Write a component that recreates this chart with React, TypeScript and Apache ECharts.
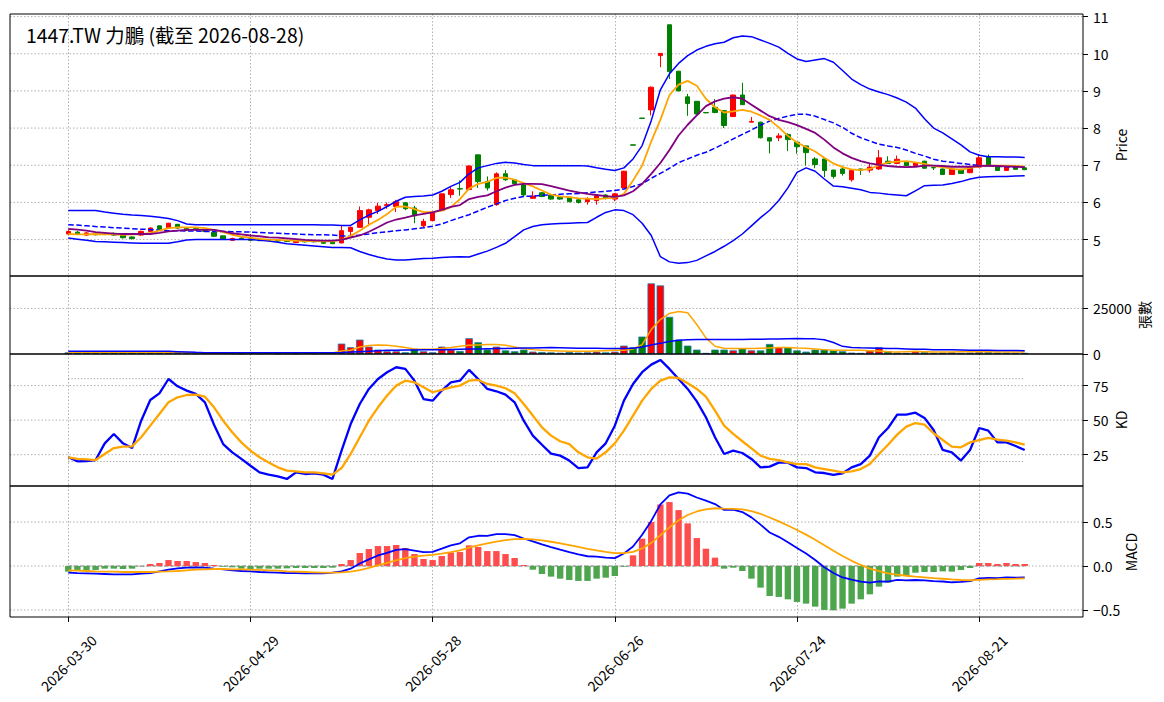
import React, { useEffect, useRef } from "react";
import * as echarts from "echarts";

const titleText = "1447.TW 力鵬 (截至 2026-08-28)";
const tickIndex = [0, 20, 40, 60, 80, 100];
const tickLabels = ["2026-03-30", "2026-04-29", "2026-05-28", "2026-06-26", "2026-07-24", "2026-08-21"];

const openP = [5.15,5.20,5.12,5.17,5.15,5.17,5.12,5.07,5.12,5.22,
 5.37,5.32,5.41,5.30,5.30,5.28,5.20,5.10,4.98,5.04,
 5.02,5.00,4.99,4.98,4.97,4.92,4.96,4.95,4.94,4.96,
 4.91,5.22,5.33,5.60,5.78,5.91,5.89,5.99,5.85,5.37,
 5.51,5.78,6.21,6.37,6.35,7.28,6.56,5.94,6.77,6.61,
 6.48,6.11,6.26,6.20,6.14,6.14,6.07,6.02,6.05,6.20,
 6.09,6.39,7.55,8.27,8.49,9.95,10.78,9.53,8.84,8.72,
 8.42,8.56,8.47,8.31,8.89,8.16,8.16,7.74,7.74,7.83,
 7.62,7.52,7.17,7.17,6.87,6.90,6.61,6.90,6.87,6.90,
 7.11,7.05,7.10,6.99,7.11,6.94,6.90,6.75,6.89,6.80,
 6.95,7.22,6.96,6.86,6.96,6.93];
const closeP = [5.22,5.15,5.18,5.13,5.14,5.12,5.05,5.03,5.22,5.31,
 5.28,5.44,5.31,5.25,5.26,5.22,5.09,5.02,5.03,5.02,
 4.98,4.97,4.97,4.96,4.95,4.95,4.94,4.94,4.90,4.89,
 5.24,5.33,5.78,5.80,5.90,5.94,6.02,5.83,5.64,5.49,
 5.74,6.23,6.34,6.36,6.98,6.56,6.39,6.77,6.61,6.50,
 6.20,6.17,6.16,6.09,6.09,6.02,6.00,6.09,6.18,6.12,
 6.23,6.84,7.54,8.26,9.10,10.01,9.52,9.00,8.66,8.38,
 8.41,8.42,8.07,8.89,8.63,8.18,7.74,7.65,7.79,7.69,
 7.50,7.34,7.02,6.86,6.70,6.78,6.86,6.86,6.95,7.20,
 7.05,7.16,6.99,7.06,6.92,6.93,6.75,6.90,6.78,6.95,
 7.20,6.99,6.86,6.95,6.89,6.88];
const lowP = [5.12,5.12,5.10,5.11,5.12,5.10,5.03,5.00,5.10,5.20,
 5.26,5.31,5.29,5.23,5.24,5.20,5.07,5.00,4.97,5.00,
 4.96,4.96,4.95,4.94,4.93,4.91,4.92,4.92,4.89,4.88,
 4.90,5.10,5.31,5.36,5.69,5.83,5.74,5.79,5.44,5.33,
 5.50,5.77,6.12,6.18,6.33,6.39,6.32,5.91,6.58,6.48,
 6.18,6.10,6.14,6.07,6.07,6.00,5.97,5.94,5.94,6.08,
 6.03,6.38,7.54,8.26,8.34,9.64,9.32,8.99,8.33,8.36,
 8.40,8.40,8.00,8.30,8.62,8.16,7.72,7.32,7.65,7.38,
 7.31,6.99,6.92,6.68,6.64,6.72,6.56,6.74,6.80,6.88,
 7.04,7.03,6.98,6.98,6.90,6.87,6.74,6.74,6.77,6.79,
 6.94,6.98,6.85,6.85,6.88,6.87];
const highP = [5.27,5.23,5.20,5.19,5.17,5.19,5.13,5.09,5.24,5.33,
 5.38,5.45,5.42,5.31,5.31,5.30,5.21,5.11,5.05,5.06,
 5.15,5.01,5.00,4.99,4.98,4.97,4.97,4.96,4.95,4.97,
 5.38,5.35,5.89,5.83,5.99,6.00,6.07,6.01,5.91,5.56,
 5.76,6.25,6.41,6.59,7.00,7.29,6.70,6.81,6.87,6.63,
 6.49,6.30,6.28,6.22,6.16,6.15,6.09,6.14,6.20,6.22,
 6.25,6.85,7.55,8.27,9.12,10.02,10.78,9.54,8.92,8.73,
 8.42,8.78,8.48,8.90,9.22,8.30,8.17,7.75,7.86,7.86,
 7.63,7.53,7.22,7.18,6.88,6.99,6.89,6.91,7.04,7.41,
 7.24,7.26,7.11,7.07,7.12,6.95,6.91,6.91,6.90,6.96,
 7.29,7.29,6.97,6.96,6.97,6.94];

const ma5 = [5.15,5.14,5.14,5.15,5.14,5.14,5.13,5.14,5.14,5.18,
 5.24,5.31,5.33,5.33,5.33,5.31,5.26,5.20,5.13,5.08,
 5.05,5.02,5.00,4.99,4.98,4.97,4.96,4.96,4.95,4.95,
 4.99,5.10,5.24,5.40,5.53,5.69,5.88,5.89,5.82,5.74,
 5.74,5.78,5.87,6.09,6.37,6.50,6.55,6.66,6.67,6.61,
 6.52,6.43,6.32,6.21,6.16,6.14,6.11,6.10,6.09,6.11,
 6.12,6.23,6.59,6.99,7.64,8.22,8.89,9.17,9.27,9.14,
 8.79,8.56,8.42,8.45,8.49,8.44,8.34,8.22,8.02,7.79,
 7.61,7.49,7.37,7.20,7.05,6.95,6.89,6.87,6.90,7.00,
 7.08,7.10,7.11,7.08,7.04,6.98,6.95,6.90,6.88,6.93,
 6.97,6.99,6.99,6.99,6.98,6.97];
const ma10 = [5.29,5.27,5.24,5.20,5.18,5.16,5.15,5.15,5.15,5.15,
 5.18,5.22,5.24,5.26,5.26,5.26,5.26,5.22,5.17,5.14,
 5.11,5.09,5.06,5.05,5.03,5.01,4.99,4.98,4.97,4.97,
 4.99,5.05,5.11,5.21,5.33,5.46,5.54,5.59,5.65,5.69,
 5.73,5.80,5.88,5.93,6.09,6.15,6.19,6.30,6.40,6.47,
 6.50,6.50,6.49,6.44,6.38,6.32,6.27,6.23,6.20,6.17,
 6.15,6.19,6.30,6.50,6.77,7.06,7.41,7.80,8.09,8.34,
 8.59,8.72,8.79,8.83,8.79,8.63,8.47,8.32,8.22,8.16,
 8.08,7.98,7.87,7.69,7.48,7.32,7.20,7.11,7.05,7.01,
 6.98,6.96,6.95,6.96,6.99,6.99,6.98,6.96,6.96,6.96,
 6.98,6.99,6.98,6.97,6.96,6.95];
const bbUpper = [5.78,5.78,5.78,5.78,5.74,5.71,5.68,5.66,5.65,5.63,
 5.60,5.57,5.51,5.42,5.40,5.40,5.40,5.40,5.40,5.40,
 5.40,5.40,5.40,5.40,5.40,5.40,5.40,5.40,5.39,5.39,
 5.38,5.38,5.53,5.66,5.76,5.89,6.03,6.14,6.16,6.17,
 6.20,6.30,6.43,6.54,6.77,6.93,6.99,7.05,7.08,7.06,
 7.02,6.99,6.99,6.99,6.99,6.99,6.99,6.98,6.93,6.89,
 6.86,6.93,7.17,7.53,8.20,9.03,9.46,9.74,9.95,10.10,
 10.20,10.27,10.31,10.43,10.48,10.46,10.37,10.28,10.18,10.01,
 9.86,9.79,9.83,9.87,9.77,9.55,9.32,9.17,9.05,8.97,
 8.90,8.81,8.70,8.54,8.25,8.00,7.87,7.71,7.55,7.36,
 7.27,7.23,7.23,7.22,7.22,7.21];
const bbMid = [5.40,5.39,5.37,5.35,5.34,5.32,5.31,5.29,5.28,5.27,
 5.25,5.24,5.24,5.23,5.23,5.22,5.22,5.22,5.21,5.21,
 5.20,5.19,5.18,5.17,5.16,5.15,5.14,5.13,5.13,5.12,
 5.10,5.09,5.12,5.15,5.19,5.21,5.24,5.26,5.29,5.32,
 5.36,5.42,5.51,5.59,5.67,5.77,5.87,5.96,6.05,6.11,
 6.16,6.17,6.19,6.20,6.22,6.23,6.24,6.26,6.28,6.30,
 6.32,6.36,6.43,6.50,6.65,6.78,6.92,7.07,7.17,7.27,
 7.35,7.46,7.58,7.71,7.83,7.95,8.08,8.19,8.26,8.32,
 8.37,8.37,8.32,8.23,8.14,8.02,7.86,7.74,7.65,7.57,
 7.52,7.48,7.41,7.32,7.25,7.16,7.11,7.08,7.05,7.02,
 6.99,6.98,6.97,6.96,6.96,6.96];
const bbLower = [5.04,5.01,4.98,4.95,4.94,4.93,4.92,4.91,4.90,4.90,
 4.90,4.90,4.94,4.99,5.00,5.00,5.00,5.00,5.00,5.00,
 5.00,4.98,4.96,4.93,4.89,4.87,4.85,4.83,4.81,4.79,
 4.79,4.78,4.68,4.60,4.53,4.48,4.45,4.45,4.47,4.49,
 4.50,4.52,4.53,4.54,4.53,4.61,4.69,4.79,4.90,5.08,
 5.26,5.35,5.40,5.42,5.43,5.44,5.45,5.46,5.60,5.73,
 5.80,5.78,5.67,5.44,5.11,4.54,4.40,4.36,4.38,4.44,
 4.56,4.68,4.82,4.97,5.15,5.37,5.59,5.79,6.05,6.39,
 6.81,6.93,6.84,6.63,6.44,6.42,6.38,6.34,6.27,6.25,
 6.22,6.20,6.18,6.31,6.45,6.46,6.47,6.51,6.56,6.63,
 6.68,6.69,6.70,6.70,6.71,6.72];

const volume = [900,700,800,600,500,900,1100,800,700,900,
 1300,1000,700,600,400,500,800,700,400,300,
 600,400,500,300,400,300,500,400,500,700,
 5700,3700,7900,4050,2400,1500,1500,940,2960,1500,
 940,4050,2400,1670,8640,6430,2500,4050,2000,1500,
 2400,1300,1100,900,700,1100,800,900,1300,900,
 1300,4600,3760,9560,38750,37650,20400,7900,4600,2400,
 600,2400,2400,2000,2960,2000,2000,5500,3700,3700,
 2000,1300,2400,2400,2000,1500,750,600,2000,3700,
 1500,750,600,1500,1100,600,750,940,600,750,
 1100,1100,750,750,600,600];
const volMa5 = [950,950,950,950,950,950,950,950,950,950,
 950,950,950,800,650,570,570,570,570,570,
 570,570,570,570,570,570,570,570,570,570,
 1700,2035,3870,4608,4975,4800,4240,3505,2770,2586,
 2586,2953,3505,4240,4790,4975,5160,5160,4790,3870,
 2953,2400,2035,1851,1667,1484,1484,1484,1667,1851,
 2035,2035,2770,5160,13420,18930,22230,23330,22600,16170,
 8830,4240,3137,2953,2953,2953,3137,3320,3505,3505,
 3320,3137,2770,2400,2035,2035,2035,2035,1851,1667,
 1300,1117,1300,1484,1300,1117,1117,1117,1300,1300,
 1300,1300,1117,1117,1117,1117];
const volMa20 = [1484,1484,1484,1484,1484,1484,1484,1484,1484,1484,
 1484,1484,1300,1100,900,750,750,750,750,750,
 750,750,750,750,750,750,750,750,750,750,
 850,1050,1300,1550,1800,2000,2100,2200,2250,2300,
 2350,2400,2500,2600,2700,2800,2900,2950,3050,3150,
 3250,3350,3450,3500,3400,3300,3200,3150,3100,3050,
 3000,2950,3200,3900,4900,5900,6800,7500,7800,7900,
 7900,7900,7900,7950,8000,8050,8100,8200,8280,8400,
 8460,8400,8300,7800,6300,4200,3600,3400,3300,3200,
 3050,2950,2800,2650,2550,2400,2350,2300,2200,2100,
 2035,2000,1950,1900,1870,1850];

const kLine = [23.1,20.2,20.4,21.1,33.2,40.0,33.2,29.8,49.6,64.6,
 69.4,79.8,74.5,71.4,69.0,62.9,46.7,32.7,26.7,21.9,
 17.0,12.2,10.5,9.3,7.4,12.2,11.0,11.5,10.5,7.4,
 27.9,47.2,61.7,72.6,79.8,84.7,88.3,87.1,78.6,65.3,
 64.1,71.4,77.4,78.6,86.4,79.8,72.6,70.9,68.5,62.9,
 49.6,38.8,32.2,25.7,24.3,20.7,15.3,15.8,26.7,33.2,
 46.0,64.1,76.2,84.7,90.2,93.6,87.1,79.8,72.6,63.6,
 52.1,37.6,25.5,27.9,26.2,21.9,15.8,16.3,19.2,19.2,
 15.8,15.3,12.2,11.7,10.3,11.5,15.8,18.2,24.3,37.6,
 44.3,54.0,54.0,55.4,51.6,42.9,28.4,26.7,20.7,28.4,
 44.3,42.4,33.9,33.9,31.3,28.4];
const dLine = [23.1,21.9,21.6,21.1,25.5,29.8,30.8,31.0,37.6,46.0,
 54.5,62.9,66.5,68.2,68.5,67.0,59.3,49.6,41.2,33.9,
 27.9,23.1,19.4,15.8,13.4,12.9,12.2,12.2,11.5,10.5,
 15.3,25.5,37.6,49.6,59.3,67.8,75.0,78.6,77.4,73.8,
 70.2,71.9,73.8,75.0,78.6,79.1,76.2,75.0,73.1,69.4,
 61.7,53.3,44.8,38.8,34.7,32.7,26.7,23.1,22.1,26.7,
 33.2,42.4,53.3,64.1,72.6,78.6,81.0,80.6,76.7,72.6,
 67.0,56.9,46.0,40.0,34.7,29.6,24.3,21.9,21.1,19.4,
 18.2,18.2,15.8,14.6,13.4,12.2,12.9,14.6,18.2,25.5,
 32.2,39.5,45.3,47.9,46.7,40.5,35.6,30.8,30.3,33.9,
 35.6,37.1,35.9,35.1,33.9,32.2];

const dif = [-0.076,-0.080,-0.083,-0.087,-0.091,-0.095,-0.095,-0.095,-0.087,-0.080,
 -0.061,-0.042,-0.027,-0.019,-0.015,-0.019,-0.030,-0.038,-0.049,-0.057,
 -0.061,-0.068,-0.072,-0.076,-0.080,-0.080,-0.083,-0.083,-0.083,-0.076,
 -0.062,-0.031,0.028,0.075,0.120,0.149,0.184,0.193,0.175,0.157,
 0.160,0.197,0.235,0.258,0.326,0.344,0.342,0.363,0.363,0.352,
 0.313,0.281,0.245,0.215,0.186,0.158,0.132,0.111,0.106,0.095,
 0.090,0.142,0.222,0.356,0.513,0.700,0.804,0.838,0.823,0.779,
 0.743,0.704,0.638,0.641,0.614,0.553,0.471,0.381,0.332,0.271,
 0.205,0.143,0.068,-0.014,-0.079,-0.130,-0.155,-0.178,-0.190,-0.176,
 -0.177,-0.158,-0.164,-0.159,-0.163,-0.172,-0.176,-0.185,-0.181,-0.173,
 -0.140,-0.136,-0.139,-0.129,-0.132,-0.129];
const dea = [-0.049,-0.053,-0.057,-0.061,-0.064,-0.064,-0.068,-0.068,-0.068,-0.068,
 -0.064,-0.061,-0.057,-0.049,-0.042,-0.038,-0.034,-0.034,-0.038,-0.038,
 -0.042,-0.045,-0.049,-0.053,-0.061,-0.064,-0.068,-0.072,-0.076,-0.076,
 -0.073,-0.065,-0.046,-0.022,0.007,0.035,0.065,0.090,0.107,0.117,
 0.126,0.140,0.159,0.179,0.209,0.236,0.257,0.278,0.295,0.306,
 0.308,0.302,0.291,0.276,0.258,0.238,0.217,0.196,0.178,0.161,
 0.147,0.146,0.161,0.200,0.263,0.350,0.440,0.520,0.580,0.620,
 0.645,0.657,0.653,0.650,0.643,0.625,0.594,0.552,0.508,0.461,
 0.410,0.357,0.299,0.236,0.173,0.113,0.059,0.012,-0.029,-0.059,
 -0.083,-0.098,-0.111,-0.121,-0.129,-0.138,-0.145,-0.153,-0.159,-0.162,
 -0.157,-0.153,-0.150,-0.146,-0.144,-0.141];
const hist = [-0.064,-0.045,-0.049,-0.045,-0.030,-0.030,-0.034,-0.030,-0.004,0.023,
 0.034,0.068,0.057,0.057,0.045,0.034,0.011,-0.008,-0.015,-0.030,
 -0.034,-0.030,-0.030,-0.030,-0.027,-0.023,-0.023,-0.023,-0.023,-0.019,
 0.023,0.068,0.148,0.193,0.227,0.227,0.239,0.205,0.136,0.080,
 0.068,0.114,0.152,0.159,0.235,0.216,0.170,0.170,0.136,0.091,
 0.011,-0.042,-0.091,-0.121,-0.144,-0.159,-0.170,-0.170,-0.144,-0.133,
 -0.114,-0.008,0.121,0.311,0.500,0.700,0.727,0.636,0.485,0.318,
 0.197,0.095,-0.030,-0.019,-0.057,-0.144,-0.246,-0.341,-0.352,-0.379,
 -0.409,-0.428,-0.462,-0.500,-0.504,-0.485,-0.428,-0.379,-0.322,-0.235,
 -0.189,-0.121,-0.106,-0.076,-0.068,-0.068,-0.061,-0.064,-0.045,-0.023,
 0.034,0.034,0.023,0.034,0.023,0.023];

const kdRefLevels = [80, 20];
const priceTicks = [5, 6, 7, 8, 9, 10, 11];
const volTicks = [0, 25000];
const kdTicks = [25, 50, 75];
const macdTicks = [-0.5, 0, 0.5];

const FONT = "'Noto Sans CJK TC', 'Noto Sans', sans-serif";
const RED = "#ff0000";
const GREEN = "#008000";
const GRID_COLOR = "#b0b0b0";
const X_MIN = -6.4;
const X_MAX = 111.4;
const panels = [
  { top: 14, height: 262 },
  { top: 276, height: 78 },
  { top: 354, height: 132 },
  { top: 486, height: 131 },
];
const yRanges = [
  { min: 4.02, max: 11.07, step: 1, ticks: priceTicks },
  { min: 0, max: 42800, step: 25000, ticks: volTicks },
  { min: 2.3, max: 97.9, step: 25, ticks: kdTicks },
  { min: -0.58, max: 0.91, step: 0.5, ticks: macdTicks },
];

const near = (a: number, b: number) => Math.abs(a - b) < 1e-6;

function yFormatter(idx: number) {
  return (v: number) => {
    const t = yRanges[idx].ticks.find((x) => near(x, v));
    if (t === undefined) return "";
    if (idx === 3) {
      if (near(t, 0)) return "0.0";
      return t < 0 ? "\u2212" + Math.abs(t).toFixed(1) : t.toFixed(1);
    }
    return String(t);
  };
}

function xFormatter(v: number) {
  const k = tickIndex.findIndex((x) => near(x, v));
  return k >= 0 ? tickLabels[k] : "";
}

const xy = (arr: number[]) => arr.map((v, i) => [i, v]);

export default function App() {
  const ref = useRef<HTMLDivElement>(null);
  useEffect(() => {
    if (!ref.current) return;
    const chart = echarts.init(ref.current, null, { renderer: "svg" });

    const up = openP.map((o, i) => closeP[i] >= o);
    const candles = openP.map((o, i) => [i, o, closeP[i], lowP[i], highP[i]]);

    const grids = panels.map((p) => ({
      left: 10,
      right: 81,
      top: p.top,
      height: p.height,
      containLabel: false,
      outerBoundsMode: "none",
      show: false,
    }));

    const dotted = [1.5, 2];

    const xAxes = panels.map((_, i) => ({
      type: "value",
      gridIndex: i,
      min: X_MIN,
      max: X_MAX,
      minInterval: 20,
      maxInterval: 20,
      axisLine: { show: false, onZero: false },
      axisTick: {
        show: i === 3,
        inside: false,
        length: 5,
        customValues: tickIndex,
        lineStyle: { color: "#000", width: 1 },
      },
      axisLabel: {
        show: i === 3,
        customValues: tickIndex,
        formatter: xFormatter,
        rotate: 45,
        align: "center",
        verticalAlign: "middle",
        margin: 46,
        fontSize: 14,
        color: "#000",
        fontFamily: FONT,
      },
      splitLine: { show: true, lineStyle: { color: GRID_COLOR, type: dotted, width: 1 } },
    }));

    const yAxes = panels.map((_, i) => ({
      type: "value",
      gridIndex: i,
      position: "right",
      min: yRanges[i].min,
      max: yRanges[i].max,
      minInterval: yRanges[i].step,
      maxInterval: yRanges[i].step,
      axisLine: { show: false, onZero: false },
      axisTick: {
        show: true,
        inside: false,
        length: 5,
        customValues: yRanges[i].ticks,
        lineStyle: { color: "#000", width: 1 },
      },
      axisLabel: {
        show: true,
        customValues: yRanges[i].ticks,
        formatter: yFormatter(i),
        margin: 10,
        fontSize: 14,
        color: "#000",
        fontFamily: FONT,
      },
      splitLine: { show: false },
    }));

    const line = (data: number[], ax: number, color: string, width: number, type: any = "solid", z = 3) => ({
      type: "line",
      xAxisIndex: ax,
      yAxisIndex: ax,
      data: xy(data),
      showSymbol: false,
      symbol: "none",
      silent: true,
      z,
      lineStyle: { color, width, type },
    });

    const hLine = (level: number, ax: number, x0: number, x1: number, color: string, type: any, z = 1) => ({
      type: "line",
      xAxisIndex: ax,
      yAxisIndex: ax,
      data: [[x0, level], [x1, level]],
      showSymbol: false,
      symbol: "none",
      silent: true,
      clip: false,
      z,
      lineStyle: { color, width: 1, type },
    });

    const gridSeries: any[] = [];
    yRanges.forEach((r, ax) => {
      r.ticks.forEach((t) => {
        if (t > r.min && t < r.max) gridSeries.push(hLine(t, ax, X_MIN, X_MAX, GRID_COLOR, dotted, 0));
      });
    });

    const last = openP.length - 1;
    const series: any[] = [
      ...gridSeries,
      {
        type: "candlestick",
        xAxisIndex: 0,
        yAxisIndex: 0,
        data: candles,
        barWidth: 5,
        z: 2,
        silent: true,
        itemStyle: { color: RED, color0: GREEN, borderColor: RED, borderColor0: GREEN, borderWidth: 1 },
      },
      line(bbUpper, 0, "#0000ff", 1.5),
      line(bbLower, 0, "#0000ff", 1.5),
      line(bbMid, 0, "#0000ff", 1.5, [5.5, 2.5]),
      line(ma5, 0, "#ffa500", 1.8),
      line(ma10, 0, "#800080", 1.8),
      {
        type: "bar",
        xAxisIndex: 1,
        yAxisIndex: 1,
        barWidth: 7.5,
        silent: true,
        z: 2,
        data: volume.map((v, i) => ({
          value: [i, v],
          itemStyle: { color: up[i] ? RED : GREEN, borderColor: "#1f77b4", borderWidth: 0.8 },
        })),
      },
      line(volMa5, 1, "#ffa500", 1.5),
      line(volMa20, 1, "#0000ff", 1.5),
      ...kdRefLevels.map((lv) => hLine(lv, 2, 0, last, "#999999", [1.2, 2])),
      line(kLine, 2, "#0000ff", 2.3),
      line(dLine, 2, "#ffa500", 2.3),
      hLine(0, 3, 0, last, "#808080", [4, 2]),
      {
        type: "bar",
        xAxisIndex: 3,
        yAxisIndex: 3,
        barWidth: 6.4,
        silent: true,
        z: 2,
        data: hist.map((v, i) => ({
          value: [i, v],
          itemStyle: { color: v >= 0 ? "#ff4d4d" : "#4da64d" },
        })),
      },
      line(dif, 3, "#0000ff", 1.8),
      line(dea, 3, "#ffa500", 1.8),
    ];

    const graphics: any[] = panels.map((p) => ({
      type: "rect",
      silent: true,
      z: 100,
      shape: { x: 10, y: p.top, width: 1073, height: p.height },
      style: { fill: "none", stroke: "#000", lineWidth: 1 },
    }));
    graphics.push({
      type: "text",
      silent: true,
      z: 100,
      x: 26,
      y: 34,
      style: { text: titleText, font: `19.4px ${FONT}`, fill: "#000", align: "left", verticalAlign: "middle" },
    });
    const names = [
      { text: "Price", x: 1121, y: 145 },
      { text: "張數", x: 1144, y: 315 },
      { text: "KD", x: 1121, y: 420 },
      { text: "MACD", x: 1131, y: 552 },
    ];
    names.forEach((n) =>
      graphics.push({
        type: "text",
        silent: true,
        z: 100,
        x: n.x,
        y: n.y,
        rotation: Math.PI / 2,
        style: { text: n.text, font: `14px ${FONT}`, fill: "#000", align: "center", verticalAlign: "middle" },
      })
    );

    chart.setOption({
      animation: false,
      backgroundColor: "#ffffff",
      textStyle: { fontFamily: FONT },
      grid: grids,
      xAxis: xAxes,
      yAxis: yAxes,
      series,
      graphic: graphics,
    });
    return () => chart.dispose();
  }, []);

  return (
    <div
      ref={ref}
      style={{ position: "absolute", left: 0, top: 0, width: 1164, height: 702, background: "#fff" }}
    />
  );
}
